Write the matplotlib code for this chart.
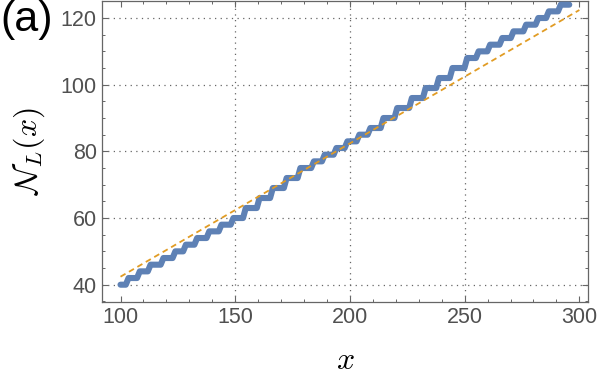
import numpy as np
import matplotlib.pyplot as plt
from matplotlib.ticker import MultipleLocator

plt.rcParams['font.family'] = ['Liberation Sans', 'DejaVu Sans']
plt.rcParams['mathtext.fontset'] = 'cm'

# step function: level held between consecutive jumps
jumps = [100, 102.9, 107.8, 112.5, 118.1, 123.3, 127.9, 132.8, 138.1, 143.4,
         148.6, 154.0, 160.0, 165.8, 171.8, 177.8, 183.7, 188.4, 193.5, 198.3,
         203.5, 208.3, 214.0, 220.0, 226.4, 232.4, 238.2, 244.1, 250.5, 255.5,
         260.5, 265.8, 270.7, 276.2, 281.5, 286.1, 291.3, 295.6]
levels = [40, 42, 44, 46, 48, 50, 52, 54, 56, 58,
          60, 63, 66, 69, 72, 75, 77, 79, 81, 83,
          85, 87, 90, 93, 96, 99, 102, 105, 108, 110,
          112, 114, 116, 118, 120, 122, 124]

# smooth (Weyl-like) estimate, dashed
fit_x = [100, 300]
fit_y = [42.4, 122.4]

# polyline through the plateaus, short ramps between them
ramp = 0.6
px, py = [], []
for i, lv in enumerate(levels):
    a = jumps[i] + (ramp if i > 0 else 0)
    b = jumps[i + 1] - (ramp if i < len(levels) - 1 else 0)
    px += [a, b]
    py += [lv, lv]

fig = plt.figure(figsize=(6, 3.91), dpi=100)
ax = fig.add_axes([0.1695, 0.2284, 0.811, 0.769])

ax.plot(px, py, color='#5E81B5', lw=4.4, solid_capstyle='round',
        solid_joinstyle='round', zorder=3)
ax.plot(fit_x, fit_y, color='#E19C24', lw=1.3, dashes=(3.2, 2.2), zorder=4)

for gx in [150, 200, 250]:
    ax.axvline(gx, color='#666666', lw=0.9, ls=(0, (1, 3.5)), zorder=1)
for gy in [40, 60, 80, 100, 120]:
    ax.axhline(gy, color='#666666', lw=0.9, ls=(0, (1, 3.5)), zorder=1)

ax.set_xlim(91.8, 303.9)
ax.set_ylim(34.9, 125.1)
ax.xaxis.set_major_locator(MultipleLocator(50))
ax.xaxis.set_minor_locator(MultipleLocator(10))
ax.yaxis.set_major_locator(MultipleLocator(20))
ax.yaxis.set_minor_locator(MultipleLocator(5))
ax.tick_params(which='both', direction='in', top=True, right=True,
               color='#666666', labelcolor='#505050', labelsize=15.5)
ax.tick_params(which='major', length=4.5, width=0.8, pad=3.5)
ax.tick_params(which='minor', length=2.5, width=0.7)
for s in ax.spines.values():
    s.set_color('#666666')
    s.set_linewidth(0.9)

ax.set_xlabel(r'$x$', fontsize=23, labelpad=13)
ax.set_ylabel(r'$\mathcal{N}_L(x)$', fontsize=23, labelpad=10)
fig.text(0.0, 1.0, '(a)', fontsize=31, va='top', ha='left')

fig.savefig('out.png', dpi=100)
